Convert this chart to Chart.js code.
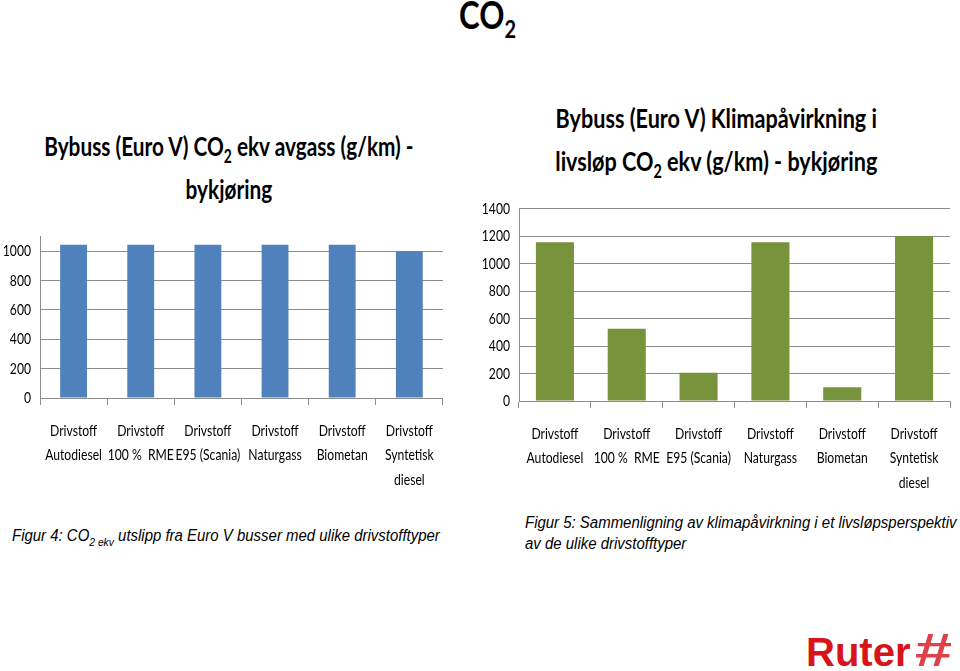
<!DOCTYPE html>
<html>
<head>
<meta charset="utf-8">
<script src="https://cdn.jsdelivr.net/npm/chart.js@4.4.1/dist/chart.umd.min.js"></script>
<style>
  html, body { margin: 0; padding: 0; background: #fff; }
  body { width: 960px; height: 671px; position: relative; overflow: hidden; }
  .abs { position: absolute; }
  .cal { font-family: Lato, "Open Sans", sans-serif; color: #000; white-space: nowrap; text-align: center; }
  .sq { display: inline-block; transform: scaleX(0.8); }
  #mainTitle { left: 388px; width: 200px; top: -9px; font-size: 39px; font-weight: bold; }
  #mainTitle sub { font-size: 25px; vertical-align: -9px; line-height: 0; }
  .chartTitle { font-size: 27px; font-weight: bold; line-height: 43px; }
  .chartTitle sub { font-size: 18px; vertical-align: -7px; line-height: 0; }
  #titleLeft { left: -71px; width: 600px; top: 124px; }
  #titleLeft .sq { transform: scaleX(0.77); }
  #titleRight { left: 476px; width: 480px; top: 96px; }
  .caption { font-family: "Liberation Sans", Arial, sans-serif; font-style: italic; font-size: 16px; line-height: 21px; color: #000; white-space: nowrap; transform: scaleX(0.935); transform-origin: left center; }
  .caption sub { font-size: 11px; vertical-align: -5px; line-height: 0; }
  #capLeft { left: 12px; top: 525px; }
  #capRight { left: 525px; top: 512px; }
  #logo { left: 806px; top: 623px; font-family: "Liberation Sans", Arial, sans-serif; font-weight: bold; font-size: 40px; color: #d7141a; white-space: nowrap; }
  #logo span { display: inline-block; font-size: 46px; font-style: italic; color: #e0404a; transform: scaleX(1.45); transform-origin: left center; margin-left: 4px; }
  canvas { display: block; }
</style>
</head>
<body>

<div id="mainTitle" class="abs cal"><span class="sq">CO<sub>2</sub></span></div>
<div id="titleLeft" class="abs cal chartTitle"><span class="sq">Bybuss (Euro V) CO<sub>2</sub> ekv avgass (g/km) -<br>bykjøring</span></div>
<div id="titleRight" class="abs cal chartTitle"><span class="sq">Bybuss (Euro V) Klimapåvirkning i<br>livsløp CO<sub>2</sub> ekv (g/km) - bykjøring</span></div>

<div class="abs" style="left:0;top:218px;width:455px;height:277px;"><canvas id="chartLeft"></canvas></div>
<div class="abs" style="left:470px;top:190px;width:490px;height:310px;"><canvas id="chartRight"></canvas></div>

<div id="capLeft" class="abs caption">Figur 4: CO<sub>2 ekv</sub> utslipp fra Euro V busser med ulike drivstofftyper</div>
<div id="capRight" class="abs caption">Figur 5: Sammenligning av klimapåvirkning i et livsløpsperspektiv<br>av de ulike drivstofftyper</div>

<div id="logo" class="abs">Ruter<span>#</span></div>

<script>
// ---------- Data ----------
const categories = [
  ["Drivstoff", "Autodiesel"],
  ["Drivstoff", "100 %  RME"],
  ["Drivstoff", "E95 (Scania)"],
  ["Drivstoff", "Naturgass"],
  ["Drivstoff", "Biometan"],
  ["Drivstoff", "Syntetisk", "diesel"]
];

// avgass (g/km), figur 4
const avgassValues = [1045, 1045, 1045, 1045, 1045, 1000];
const avgassTicks = [0, 200, 400, 600, 800, 1000];
const avgassMax = 1100;

// livsløp (g/km), figur 5
const livslopValues = [1155, 525, 205, 1155, 100, 1200];
const livslopTicks = [0, 200, 400, 600, 800, 1000, 1200, 1400];
const livslopMax = 1400;

// ---------- Shared defaults ----------
Chart.defaults.font.family = "Lato, 'Open Sans', sans-serif";
Chart.defaults.font.size = 16;
Chart.defaults.color = "#000";

const GRID = "#8c8c8c";
const TEXT_SQUEEZE = 0.76; // the original slide text is narrow (Calibri, squeezed)

// draw canvas text a bit narrower, like the source picture
const squeezeText = {
  id: "squeezeText",
  beforeDraw(chart) {
    const ctx = chart.ctx;
    if (ctx._squeezed) return;
    const fill = ctx.fillText.bind(ctx);
    ctx.fillText = (text, x, y) => fill(text, x, y, ctx.measureText(text).width * TEXT_SQUEEZE);
    ctx._squeezed = true;
  }
};

function makeChart(id, values, color, tickValues, max, opts) {
  return new Chart(document.getElementById(id), {
    type: "bar",
    data: {
      labels: categories,
      datasets: [{
        data: values,
        backgroundColor: color,
        barPercentage: opts.barPct,
        categoryPercentage: 1
      }]
    },
    plugins: [squeezeText],
    options: {
      responsive: true,
      maintainAspectRatio: false,
      animation: false,
      layout: { padding: { top: opts.padTop, right: opts.padRight, left: 0, bottom: 0 } },
      plugins: { legend: { display: false }, tooltip: { enabled: false } },
      scales: {
        x: {
          grid: { drawOnChartArea: false, drawTicks: true, tickLength: 7, color: GRID, offset: true },
          border: { display: true, color: GRID, width: 1 },
          ticks: { maxRotation: 0, autoSkip: false, padding: opts.xPad, font: { lineHeight: 1.55 } },
          afterFit: (s) => { s.height = opts.xHeight; }
        },
        y: {
          min: 0,
          max: max,
          grid: { color: GRID, drawTicks: false },
          border: { display: true, color: GRID, width: 1 },
          ticks: { padding: 9, callback: (v) => String(v) },
          afterBuildTicks: (s) => { s.ticks = tickValues.map(v => ({ value: v })); },
          afterFit: (s) => { s.width = opts.yWidth; }
        }
      }
    }
  });
}

// ---------- Charts ----------
makeChart("chartLeft", avgassValues, "#4f81bd", avgassTicks, avgassMax,
  { barPct: 0.4, padTop: 7, padRight: 6, yWidth: 40, xHeight: 97, xPad: 13 });

makeChart("chartRight", livslopValues, "#77933c", livslopTicks, livslopMax,
  { barPct: 0.53, padTop: 8, padRight: 9, yWidth: 49, xHeight: 99, xPad: 13 });
</script>
</body>
</html>
